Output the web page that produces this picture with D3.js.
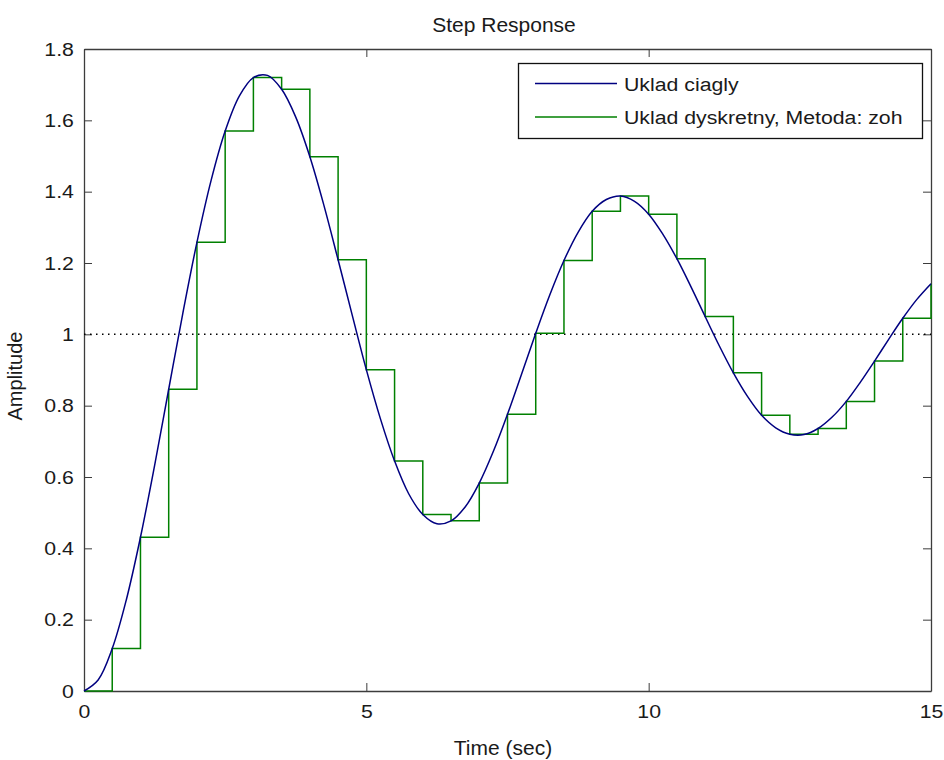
<!DOCTYPE html>
<html>
<head>
<meta charset="utf-8">
<script src="https://cdn.jsdelivr.net/npm/d3@7"></script>
<style>
  body { margin: 0; background: #fff; }
  text { font-family: "Liberation Sans", Arial, sans-serif; fill: #1a1a1a; }
</style>
</head>
<body>
<svg id="chart" width="944" height="760"></svg>
<script>
var contTime = d3.range(0, 15.001, 0.25);
var contValues = [0, 0.031, 0.119, 0.256, 0.431, 0.632, 0.846, 1.059, 1.258, 1.431, 1.570, 1.668,
    1.720, 1.726, 1.687, 1.609, 1.498, 1.361, 1.209, 1.054, 0.901, 0.763, 0.645, 0.553,
    0.495, 0.469, 0.477, 0.516, 0.583, 0.672, 0.776, 0.889, 1.003, 1.111, 1.207, 1.286,
    1.345, 1.378, 1.388, 1.373, 1.337, 1.281, 1.212, 1.133, 1.050, 0.968, 0.892, 0.826,
    0.773, 0.738, 0.720, 0.719, 0.736, 0.768, 0.812, 0.866, 0.925, 0.986, 1.045, 1.098, 1.142];
// discrete (zoh) samples, Ts = 0.5 s
var discTime = d3.range(0, 15.001, 0.5);
var discValues = [0, 0.119, 0.431, 0.846, 1.258, 1.570, 1.720, 1.687, 1.498, 1.209, 0.901,
    0.645, 0.495, 0.477, 0.583, 0.776, 1.003, 1.207, 1.345, 1.388, 1.337, 1.212, 1.050,
    0.892, 0.773, 0.720, 0.736, 0.812, 0.925, 1.045, 1.142];
var xTicks = [0, 5, 10, 15];
var yTicks = [0, 0.2, 0.4, 0.6, 0.8, 1, 1.2, 1.4, 1.6, 1.8];
var legendNames = ["Uklad ciagly", "Uklad dyskretny, Metoda: zoh"];
var colors = ["#000080", "#008000"];

var plotLeft = 84, plotRight = 931, plotTop = 49, plotBottom = 691;
var stretch = "scale(1.12,1)";   // the picture's text is a bit wide
var svg = d3.select("#chart");
var x = d3.scaleLinear().domain([0, 15]).range([plotLeft, plotRight]);
var y = d3.scaleLinear().domain([0, 1.8]).range([plotBottom, plotTop]);
var axisColor = "#3c3c3c";

// axes with inward ticks on all four sides (box on)
var gx = svg.append("g").attr("transform", "translate(0," + plotBottom + ")")
        .call(d3.axisBottom(x).tickValues(xTicks).tickSizeInner(-8).tickSizeOuter(0)
                .tickPadding(14).tickFormat(d3.format("d")));
var gxTop = svg.append("g").attr("transform", "translate(0," + plotTop + ")")
        .call(d3.axisTop(x).tickValues(xTicks).tickSizeInner(-8).tickSizeOuter(0).tickFormat(""));
var gy = svg.append("g").attr("transform", "translate(" + plotLeft + ",0)")
        .call(d3.axisLeft(y).tickValues(yTicks).tickSizeInner(-8).tickSizeOuter(0)
                .tickPadding(9).tickFormat(function (d) {
                    return String(+d.toFixed(1));
                }));
var gyRight = svg.append("g").attr("transform", "translate(" + plotRight + ",0)")
        .call(d3.axisRight(y).tickValues(yTicks).tickSizeInner(-8).tickSizeOuter(0).tickFormat(""));
[gx, gxTop, gy, gyRight].forEach(function (g) {
    g.selectAll("path.domain").attr("stroke", axisColor).attr("stroke-width", 1.3);
    g.selectAll(".tick line").attr("stroke", axisColor);
    g.selectAll(".tick text").style("font-size", "19px").attr("fill", "#1a1a1a")
            .attr("transform", stretch);
});

// reference line at 1
svg.append("line")
        .attr("x1", x(0)).attr("x2", x(15))
        .attr("y1", y(1)).attr("y2", y(1))
        .attr("stroke", "#000").attr("stroke-width", 1.5)
        .attr("stroke-dasharray", "1.5,4.5");

var contLine = d3.line()
        .x(function (d, i) { return x(contTime[i]); })
        .y(function (d) { return y(d); })
        .curve(d3.curveCatmullRom);
var discLine = d3.line()
        .x(function (d, i) { return x(discTime[i]); })
        .y(function (d) { return y(d); })
        .curve(d3.curveStepAfter);

svg.append("path").datum(discValues)
        .attr("d", discLine)
        .attr("fill", "none").attr("stroke", colors[1]).attr("stroke-width", 1.5);
svg.append("path").datum(contValues)
        .attr("d", contLine)
        .attr("fill", "none").attr("stroke", colors[0]).attr("stroke-width", 1.5);

// title and labels
svg.append("text").attr("x", 504).attr("y", 32).attr("text-anchor", "middle")
        .style("font-size", "21px").text("Step Response");
svg.append("text").attr("x", 503).attr("y", 755).attr("text-anchor", "middle")
        .style("font-size", "21px").text("Time (sec)");
svg.append("text").attr("transform", "translate(22,376) rotate(-90)").attr("text-anchor", "middle")
        .style("font-size", "20px").text("Amplitude");

// legend
var lg = svg.append("g");
lg.append("rect").attr("x", 518.5).attr("y", 63.5).attr("width", 404).attr("height", 75)
        .attr("fill", "#fff").attr("stroke", "#111").attr("stroke-width", 1.3);
legendNames.forEach(function (name, i) {
    var ly = 83.5 + i * 33.5;
    lg.append("line").attr("x1", 535).attr("x2", 617).attr("y1", ly).attr("y2", ly)
            .attr("stroke", colors[i]).attr("stroke-width", 1.5);
    lg.append("text").attr("transform", "translate(624," + (ly + 7) + ") " + stretch)
            .style("font-size", "19px").text(name);
});
</script>
</body>
</html>
